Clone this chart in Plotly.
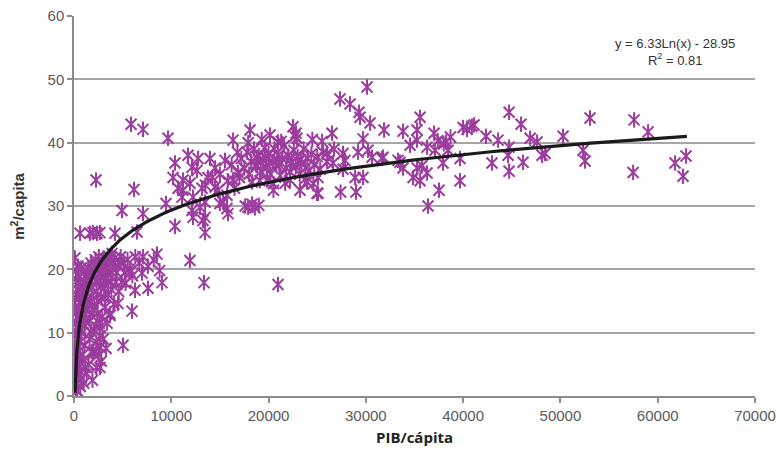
import numpy as np
import plotly.graph_objects as go

# ---------------- data ----------------
gdp_low = [
    200, 300, 400, 250, 500, 300, 600, 150, 400, 700,
    200, 500, 800, 300, 600, 900, 200, 500, 1000, 100,
    400, 700, 1200, 900, 1100, 300, 800, 1300, 1500, 1200,
    600, 900, 1100, 350, 150, 450, 1400, 750, 50, 100,
    1000, 650, 1600, 1700, 1800, 1900, 2000, 1600, 1800, 2100,
    2300, 2500, 2700, 2900, 2200, 2600, 3000, 3200, 3400, 3600,
    2400, 2800, 3100, 3300, 3500, 3800, 4000, 2000, 2300, 2600,
    2900, 3200, 2700, 2500, 2800, 2300, 2000, 1500, 1300, 1900,
    4200, 4500, 4800, 5100, 5500, 4400, 4900, 5200, 5700, 6000,
    6300, 3900, 4600, 5300, 3700, 4100, 3400, 3000, 3300, 620,
    1640, 1950, 2360, 2670, 4210, 6480, 2260, 5860, 7090, 6170,
    4930, 7090, 7610, 6270, 6990, 5760, 4520, 3700, 5960, 5040,
    2670, 2670, 1950, 2670, 7100, 7600, 6700, 100, 150, 250,
    100, 350, 250, 550, 450, 700, 850, 950, 1050, 1150,
    1250, 1350, 1450, 1550, 1650, 1750, 1850, 2150, 2250, 2450,
    2550, 2750, 2850, 3050, 3150, 3350, 3450, 3550, 3750, 3850,
    4300, 4700, 2350, 1750, 1150, 750, 350,
]
area_low = [
    1.0, 2.0, 3.5, 5.0, 6.0, 7.5, 8.5, 10.0, 11.0, 12.0,
    13.0, 14.0, 15.0, 16.0, 17.0, 17.5, 18.5, 19.0, 19.5, 21.8,
    20.5, 16.0, 15.0, 13.0, 11.0, 9.0, 10.0, 13.5, 17.0, 19.0,
    4.0, 6.5, 8.0, 12.5, 15.5, 17.8, 18.5, 20.2, 3.0, 6.5,
    2.0, 1.5, 12.0, 15.0, 17.0, 19.0, 20.0, 9.0, 7.0, 14.0,
    16.5, 18.0, 19.5, 21.0, 21.5, 20.5, 19.0, 20.0, 21.5, 22.0,
    13.0, 15.5, 17.0, 18.5, 16.0, 18.0, 20.0, 10.5, 8.5, 11.5,
    12.5, 14.0, 9.5, 6.5, 5.5, 4.5, 7.0, 5.0, 3.5, 2.5,
    21.8, 20.5, 22.0, 21.0, 21.5, 19.5, 18.0, 19.5, 20.0, 19.0,
    22.0, 22.5, 16.5, 17.8, 13.0, 14.5, 11.5, 9.0, 7.5, 25.7,
    25.7, 25.8, 25.7, 25.8, 25.7, 25.9, 34.1, 42.9, 42.1, 32.6,
    29.3, 28.8, 17.0, 16.7, 19.4, 19.6, 14.6, 12.7, 13.4, 8.0,
    4.5, 7.7, 6.7, 10.8, 22.0, 20.5, 21.0, 4.0, 8.0, 11.5,
    14.0, 16.8, 19.8, 10.5, 7.0, 5.2, 12.5, 15.8, 17.8, 13.8,
    11.8, 16.2, 20.2, 14.5, 18.2, 21.0, 13.2, 18.8, 11.0, 15.0,
    22.0, 17.2, 19.5, 21.8, 15.5, 20.2, 18.0, 19.2, 21.0, 16.8,
    18.0, 21.2, 20.8, 10.2, 4.5, 2.8, 0.8,
]

gdp_mid = [
    9660, 8530, 11920, 9050, 10380, 12230, 12130, 9460, 11100, 10690,
    11920, 10180, 10380, 12130, 11720, 8200, 8800, 12750, 13980, 11200,
    12640, 13770, 11200, 12230, 12950, 13470, 15520, 15730, 15730, 15000,
    16350, 18090, 16860, 16350, 20150, 22510, 22920, 20970, 13160, 14490,
    13470, 15320, 15830, 13260, 13470, 13360, 20970, 22820, 23230, 24980,
    27400, 26000, 26630, 25080, 20500, 25080, 23950, 22200, 19840, 18810,
    17600, 17900, 18300, 18600, 19000, 14500, 15000, 14200, 15800, 16200,
    13500, 14800, 16500,
    17200, 17500, 17800, 18000, 18200, 18500, 18700, 19000, 19200, 19400,
    19600, 19800, 20000, 20200, 20400, 20600, 20800, 21000, 21200, 21400,
    21600, 21800, 22000, 22200, 22400, 22600, 22800, 23000, 23200, 23400,
    23600, 23800, 24000, 24200, 24400, 24700, 25000, 25300, 25600, 18300,
    19100, 20500, 21700, 23700, 24600, 17900, 19300, 21300, 22700, 24500,
    25500, 26000, 16800, 17000, 18800, 20100, 21100, 22300, 23300, 19700,
    20900,
]
area_mid = [
    40.7, 22.4, 21.4, 17.9, 26.8, 28.2, 29.3, 30.4, 31.4, 32.8,
    33.6, 34.5, 36.8, 36.1, 38.0, 21.5, 19.8, 37.5, 37.5, 34.1,
    35.6, 34.5, 32.5, 31.4, 29.8, 28.2, 37.2, 31.7, 29.6, 30.4,
    40.4, 42.0, 35.3, 34.1, 41.2, 42.5, 40.7, 40.1, 32.8, 33.0,
    30.6, 30.6, 28.8, 27.7, 25.8, 17.9, 17.6, 41.5, 32.5, 32.0,
    32.2, 38.3, 36.8, 32.0, 32.5, 34.5, 33.8, 34.1, 34.1, 36.4,
    30.0, 29.8, 30.3, 29.7, 30.1, 36.0, 35.0, 34.5, 34.0, 36.5,
    33.3, 32.5, 32.8,
    37.5, 36.0, 38.5, 35.0, 37.0, 39.0, 36.5, 38.0, 35.5, 37.2,
    39.2, 36.0, 38.3, 35.0, 37.0, 39.0, 36.4, 38.0, 34.8, 37.5,
    39.5, 36.0, 38.0, 35.4, 37.0, 38.8, 36.2, 37.8, 35.0, 36.8,
    39.0, 36.0, 37.5, 35.6, 38.2, 36.5, 37.8, 35.8, 38.5, 33.8,
    34.0, 33.5, 33.6, 34.2, 33.5, 40.0, 40.5, 40.2, 41.0, 40.5,
    40.2, 37.0, 38.5, 34.5, 37.7, 36.9, 36.5, 36.7, 37.3, 37.6,
    37.3,
]

gdp_high = [
    41120, 42350, 43590, 44720, 45950, 44720, 46880, 47600, 44620, 42970,
    46160, 44720, 48110, 48420, 50270, 53040, 52320, 52530, 57570, 59010,
    57470, 61780, 62910, 62600, 30120, 27340, 28370, 29300, 29400, 30430,
    31870, 33820, 35260, 35570, 39990, 40400, 37010, 29710, 26520, 26730,
    27650, 27860, 29200, 30220, 30630, 31770, 27650, 28890, 29710, 28990,
    34540, 35260, 36290, 37110, 38240, 38450, 33310, 33820, 35260, 35780,
    34850, 35570, 36290, 37930, 39680, 39680, 37520, 36390, 31660, 33510,
    37400, 38000, 38700, 40900,
]
area_high = [
    42.8, 41.0, 40.4, 44.8, 42.9, 39.3, 40.7, 40.1, 38.0, 36.8,
    36.9, 35.5, 38.0, 38.3, 41.0, 43.9, 38.8, 37.1, 43.6, 41.7,
    35.3, 36.8, 37.9, 34.7, 48.8, 46.9, 46.1, 44.8, 44.0, 43.1,
    42.0, 41.8, 42.0, 44.0, 42.4, 42.1, 41.5, 40.6, 41.5, 39.0,
    38.3, 37.2, 38.5, 38.8, 37.7, 37.7, 35.8, 34.5, 34.5, 32.2,
    39.6, 40.4, 39.3, 38.8, 40.1, 38.8, 37.2, 36.0, 36.0, 36.4,
    34.5, 34.0, 35.2, 36.8, 37.5, 34.0, 32.5, 30.0, 37.5, 36.9,
    40.3, 39.8, 40.9, 42.6,
]

# Logarithmic trend line shown in the chart: y = a*ln(x) + b
trend_a = 6.33
trend_b = -28.95
trend_x_min = 105
trend_x_max = 63000

x_ticks = [0, 10000, 20000, 30000, 40000, 50000, 60000, 70000]
y_ticks = [0, 10, 20, 30, 40, 50, 60]

# ---------------- figure ----------------
gdp_all = gdp_low + gdp_mid + gdp_high
area_all = area_low + area_mid + area_high

purple = "#9c3c9e"

fig = go.Figure()
# Excel-style "star" marker: an X plus a vertical stroke
fig.add_trace(go.Scatter(
    x=gdp_all, y=area_all, mode="markers",
    marker=dict(symbol="x-thin-open", size=11, color=purple,
                line=dict(color=purple, width=2)),
    showlegend=False, hoverinfo="x+y",
))
fig.add_trace(go.Scatter(
    x=gdp_all, y=area_all, mode="markers",
    marker=dict(symbol="line-ns-open", size=11, color=purple,
                line=dict(color=purple, width=2)),
    showlegend=False, hoverinfo="skip",
))

tx = np.geomspace(trend_x_min, trend_x_max, 300)
ty = trend_a * np.log(tx) + trend_b
fig.add_trace(go.Scatter(
    x=tx, y=ty, mode="lines",
    line=dict(color="#1a1a1a", width=3.2),
    showlegend=False, hoverinfo="skip",
))

tick_font = dict(family="Liberation Sans, Arial, sans-serif", size=15, color="#595959")

fig.update_layout(
    width=777, height=453,
    margin=dict(l=74, r=22, t=16, b=57),
    paper_bgcolor="white", plot_bgcolor="white",
    xaxis=dict(
        range=[0, 70000], tickvals=x_ticks, ticktext=[str(v) for v in x_ticks],
        showgrid=False, zeroline=False, automargin=False,
        showline=True, linecolor="#8c8c8c", linewidth=1.5,
        ticks="outside", ticklen=5, tickcolor="#8c8c8c", tickwidth=1.5,
        tickfont=tick_font,
    ),
    yaxis=dict(
        range=[0, 60], tickvals=y_ticks,
        showgrid=True, gridcolor="#a6a6a6", gridwidth=1.5,
        zeroline=False, automargin=False,
        showline=True, linecolor="#8c8c8c", linewidth=1.5,
        ticks="outside", ticklen=5, tickcolor="#8c8c8c", tickwidth=1.5,
        tickfont=tick_font,
    ),
    annotations=[
        dict(xref="paper", yref="paper", x=0.882, y=0.905, xanchor="center", yanchor="middle",
             text="y = 6.33Ln(x) - 28.95<br>R<sup>2</sup> = 0.81", showarrow=False,
             align="center",
             font=dict(family="Liberation Sans, Arial, sans-serif", size=13, color="#333333")),
        dict(xref="paper", yref="paper", x=-0.084, y=0.5, xanchor="center", yanchor="middle",
             text="<b>m<sup>2</sup>/capita</b>", textangle=-90, showarrow=False,
             font=dict(family="Liberation Sans, Arial, sans-serif", size=15, color="#333333")),
        dict(xref="paper", yref="paper", x=0.5, y=-0.109, xanchor="center", yanchor="middle",
             text="<b>PIB/cápita</b>", showarrow=False,
             font=dict(family="Open Sans, sans-serif", size=15, color="#222222")),
    ],
)

fig.write_html("out.html")
